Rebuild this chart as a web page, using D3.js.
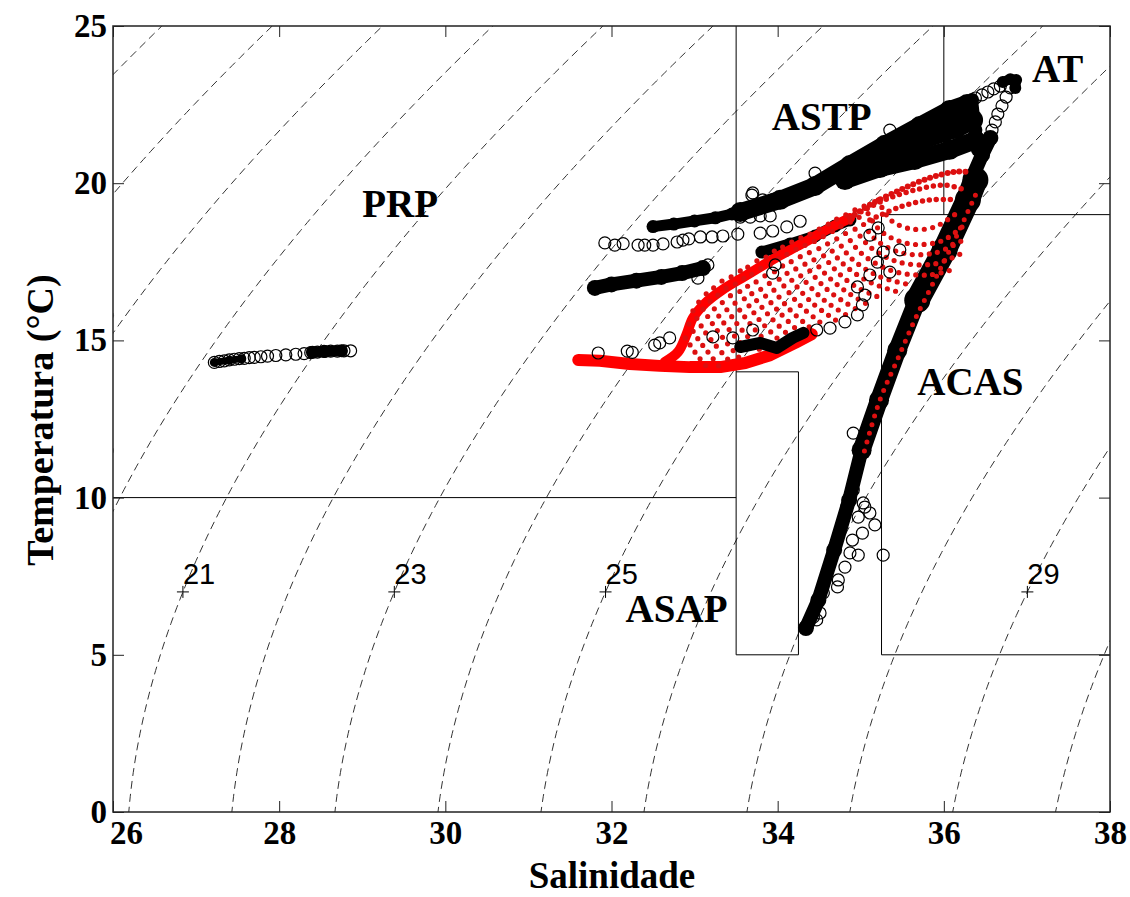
<!DOCTYPE html>
<html>
<head>
<meta charset="utf-8">
<script src="https://cdn.jsdelivr.net/npm/d3@7"></script>
<style>
  body { margin: 0; background: #fff; }
  .chart text { font-family: "Liberation Serif", "Times New Roman", serif; font-weight: bold; fill: #000; }
  .chart text.siglab { font-family: "Liberation Sans", Arial, sans-serif; font-weight: normal; }
</style>
</head>
<body>
<div class="chart"></div>
<script>
// ---- axes ----
const xTicks = [26, 28, 30, 32, 34, 36, 38];
const yTicks = [0, 5, 10, 15, 20, 25];
const sigmaLevels = [17, 18, 19, 20, 21, 22, 23, 24, 25, 26, 27, 28, 29, 30];
const sigmaLabels = [21, 23, 25, 29];
const sigmaLabelT = 7;

// ---- water mass limits (S1,T1,S2,T2) ----
const boxLines = [
  [26, 10, 33.5, 10],
  [33.5, 5, 33.5, 25],
  [33.5, 14, 34.25, 14], [34.25, 14, 34.25, 5], [33.5, 5, 34.25, 5],
  [36, 19, 36, 25],
  [35.25, 19, 38, 19], [35.25, 5, 35.25, 19], [35.25, 5, 38, 5]
];
const massNames = ["PRP", "ASTP", "AT", "ACAS", "ASAP"];
const massS = [29.00, 33.93, 37.06, 35.68, 32.17];
const massT = [18.93, 21.69, 23.22, 13.26, 6.04];

// ---- observed data: dense black tracks [S, T] ----
const prpLeft  = [[27.22, 14.30], [27.40, 14.37], [27.55, 14.42]];
const prpRight = [[28.40, 14.62], [28.55, 14.65], [28.75, 14.67]];
const trackC = [[31.80, 16.67], [32.00, 16.78], [32.30, 16.90], [32.60, 17.02], [32.85, 17.14], [33.10, 17.30]];
const trackB = [[32.50, 18.62], [32.75, 18.70], [33.00, 18.80], [33.25, 18.90], [33.45, 19.02]];
const trackD = [[33.81, 17.81], [34.15, 18.07], [34.45, 18.32], [34.69, 18.64], [34.87, 18.83]];
const bandA = [[33.55, 19.08], [34.03, 19.47], [34.45, 19.91], [34.87, 20.58], [35.29, 21.22], [35.71, 21.82], [36.07, 22.33], [36.28, 22.52]];
const bandB = [[34.81, 20.10], [35.23, 20.48], [35.65, 20.74], [36.07, 21.06], [36.38, 21.37]];
const bandC = [[35.23, 20.90], [35.71, 21.37], [36.14, 21.76], [36.34, 22.01]];
const bandD = [[36.34, 22.65], [36.38, 21.69], [36.41, 21.06]];
const bandE = [[36.56, 21.44], [36.46, 20.90], [36.34, 20.17], [36.26, 19.53]];
const bandF = [[36.71, 23.22], [36.80, 23.31], [36.87, 23.28], [36.86, 23.03]];
const mainTop = [[36.38, 20.10], [36.29, 19.47], [36.01, 17.88], [35.68, 16.28]];
const mainMid = [[35.68, 16.28], [35.44, 14.69], [35.22, 13.10], [35.01, 11.51]];
const mainLow = [[35.01, 11.51], [34.86, 9.92], [34.68, 8.33], [34.49, 6.74], [34.34, 5.85]];
const asapStreak = [[33.55, 14.79], [33.79, 14.92], [33.99, 14.76], [34.18, 15.08], [34.31, 15.24]];

// ---- observed data: single open circles [S, T] ----
const prpS = [27.22, 27.28, 27.34, 27.40, 27.46, 27.52, 27.58, 27.64, 27.70, 27.78, 27.86, 27.96, 28.08, 28.20, 28.30, 28.38, 28.46, 28.54, 28.62, 28.70, 28.78, 28.86];
const prpT = [14.30, 14.33, 14.35, 14.38, 14.40, 14.42, 14.43, 14.45, 14.46, 14.48, 14.50, 14.52, 14.54, 14.56, 14.58, 14.61, 14.63, 14.65, 14.66, 14.66, 14.67, 14.67];
const openCircles = [
  [31.92, 18.10], [32.04, 18.03], [32.14, 18.08], [32.32, 18.03], [32.40, 18.03], [32.50, 18.03], [32.62, 18.07],
  [32.79, 18.13], [32.86, 18.19], [32.93, 18.23], [33.07, 18.29], [33.21, 18.29], [33.34, 18.32], [33.52, 18.38],
  [33.79, 18.41], [33.94, 18.48], [34.11, 18.61], [34.27, 18.79],
  [33.55, 18.92], [33.67, 18.92], [33.79, 18.96], [33.91, 18.96], [33.70, 19.69], [33.82, 19.47], [33.94, 19.47],
  [33.04, 16.98], [33.10, 17.30], [33.16, 17.40],
  [31.84, 14.60], [32.19, 14.66], [32.25, 14.62], [32.52, 14.85], [32.58, 14.92], [32.70, 15.08], [33.22, 15.11],
  [33.46, 15.08], [33.70, 15.33],
  [34.47, 15.33], [34.63, 15.39], [34.81, 15.59], [34.96, 15.81], [35.02, 16.13], [35.05, 16.44], [34.96, 16.70],
  [35.11, 17.08], [35.20, 17.49], [35.27, 17.81], [35.11, 18.35], [35.21, 18.58], [35.47, 17.88], [35.35, 17.17],
  [34.91, 12.05], [35.05, 9.70], [34.97, 9.38], [35.11, 9.51], [35.17, 9.13], [35.02, 8.87], [34.90, 8.65],
  [34.97, 8.17], [34.87, 8.24], [35.27, 8.17], [34.81, 7.79], [34.73, 7.38], [34.72, 7.16], [34.55, 6.97],
  [34.51, 6.33], [34.43, 6.20], [34.35, 5.88], [34.47, 6.11], [34.91, 10.24], [34.83, 9.70], [35.03, 9.83],
  [34.45, 20.32], [35.35, 21.69], [33.69, 19.62], [33.97, 17.40], [33.94, 17.14],
  [36.29, 22.58], [36.38, 22.71], [36.46, 22.81], [36.53, 22.90], [36.60, 23.00], [36.68, 23.09],
  [36.80, 23.03], [36.75, 22.74], [36.70, 22.46], [36.65, 22.20], [36.62, 21.95], [36.58, 21.69]
];
const edgePoints = [[25.97, 15.8], [25.97, 11.5]];

// ---- model output (red) [S, T] ----
const redTail = [[31.60, 14.38], [31.86, 14.35], [32.22, 14.25], [32.58, 14.19], [32.94, 14.15], [33.31, 14.15], [33.61, 14.28], [33.91, 14.53], [34.21, 14.92], [34.41, 15.20]];
const redUpper = [[32.64, 14.31], [32.80, 14.63], [32.90, 15.17], [32.98, 15.71], [33.13, 16.19], [33.33, 16.60], [33.61, 17.05], [33.97, 17.62], [34.33, 18.13], [34.63, 18.58], [34.87, 18.89]];
const redTop = [[34.87, 18.89], [35.11, 19.31], [35.47, 19.78], [35.83, 20.17], [36.13, 20.36], [36.32, 20.36]];
const redEdge = [[36.38, 19.62], [36.13, 18.19], [35.89, 16.92], [35.65, 15.65], [35.44, 14.38], [35.23, 13.10], [35.03, 11.35]];
const redRows = [
  [[34.93, 18.99], [35.29, 19.47], [35.65, 19.78], [36.01, 19.94], [36.26, 19.78]],
  [[35.11, 18.83], [35.47, 19.24], [35.83, 19.47], [36.14, 19.47]]
];
const redArcs = [
  [[35.21, 19.47], [35.36, 18.83], [35.62, 18.54], [35.89, 18.61], [36.14, 19.02]],
  [[35.04, 19.27], [35.24, 18.48], [35.59, 18.07], [35.97, 18.16], [36.22, 18.61]],
  [[34.93, 19.15], [35.17, 18.23], [35.50, 17.78], [35.89, 17.78], [36.23, 18.19]],
  [[34.82, 18.99], [35.10, 18.00], [35.46, 17.49], [35.88, 17.43], [36.20, 17.75]],
  [[34.71, 18.86], [34.99, 17.81], [35.38, 17.21], [35.81, 17.08], [36.09, 17.24]],
  [[34.61, 18.70], [34.86, 17.68], [35.21, 17.05], [35.61, 16.76]],
  [[34.50, 18.54], [34.73, 17.59], [35.08, 16.89], [35.49, 16.51]],
  [[34.39, 18.38], [34.61, 17.49], [34.91, 16.76], [35.27, 16.32]],
  [[34.28, 18.26], [34.50, 17.33], [34.80, 16.60], [35.12, 16.09]],
  [[34.17, 18.13], [34.37, 17.27], [34.63, 16.54], [34.98, 15.94]],
  [[34.06, 17.97], [34.27, 17.08], [34.56, 16.28], [34.87, 15.74]],
  [[33.96, 17.84], [34.16, 16.95], [34.43, 16.16], [34.73, 15.59]],
  [[33.86, 17.65], [34.04, 16.86], [34.28, 16.09], [34.57, 15.46]],
  [[33.75, 17.53], [33.92, 16.73], [34.15, 15.97], [34.41, 15.36]],
  [[33.64, 17.33], [33.81, 16.57], [34.03, 15.87], [34.27, 15.24]],
  [[33.55, 17.21], [33.69, 16.48], [33.90, 15.78], [34.14, 15.14]],
  [[33.44, 17.02], [33.60, 16.32], [33.79, 15.62], [34.03, 14.98]],
  [[33.33, 16.89], [33.50, 16.13], [33.69, 15.46], [33.91, 14.82]],
  [[33.23, 16.67], [33.39, 15.97], [33.58, 15.30], [33.79, 14.69]],
  [[33.14, 16.48], [33.29, 15.78], [33.48, 15.14], [33.67, 14.54]],
  [[33.05, 16.22], [33.21, 15.55], [33.38, 14.95], [33.55, 14.41]],
  [[32.98, 15.94], [33.11, 15.33], [33.27, 14.79], [33.43, 14.31]],
  [[32.93, 15.52], [33.05, 15.01], [33.17, 14.60], [33.29, 14.19]],
  [[32.89, 15.08], [33.02, 14.57], [33.17, 14.09]]
];

// ---- styles (kept apart from the data) ----
const black = "#000", red = "#ff0000", redDot = "#dc1010";
const denseTracks = [
  [prpLeft, 7], [prpRight, 11], [trackC, 14], [trackB, 11], [trackD, 11],
  [bandA, 18], [bandB, 18], [bandC, 20], [bandD, 12], [bandE, 14], [bandF, 10],
  [mainTop, 24], [mainMid, 18], [mainLow, 14]
];

// ---- layout ----
const W = 1130, H = 897;
const x = d3.scaleLinear().domain([26, 38]).range([113, 1110]);
const y = d3.scaleLinear().domain([0, 25]).range([812, 26]);

const svg = d3.select(".chart").append("svg")
  .attr("width", W).attr("height", H);

svg.append("clipPath").attr("id", "plot")
  .append("rect").attr("x", x(26)).attr("y", y(25))
  .attr("width", x(38) - x(26)).attr("height", y(0) - y(25));

const plot = svg.append("g").attr("clip-path", "url(#plot)");

// sigma-t (UNESCO 1981, p = 0)
function sigmaT(S, T) {
  const rw = 999.842594 + 6.793952e-2 * T - 9.095290e-3 * T * T + 1.001685e-4 * T ** 3
    - 1.120083e-6 * T ** 4 + 6.536332e-9 * T ** 5;
  const A = 8.24493e-1 - 4.0899e-3 * T + 7.6438e-5 * T * T - 8.2467e-7 * T ** 3 + 5.3875e-9 * T ** 4;
  const B = -5.72466e-3 + 1.0227e-4 * T - 1.6546e-6 * T * T;
  return rw + A * S + B * Math.pow(S, 1.5) + 4.8314e-4 * S * S - 1000;
}
function salAt(sig, T) {
  let lo = 0, hi = 50;
  for (let k = 0; k < 60; k++) {
    const mid = (lo + hi) / 2;
    if (sigmaT(mid, T) < sig) lo = mid; else hi = mid;
  }
  return (lo + hi) / 2;
}

const line = d3.line().x(d => x(d[0])).y(d => y(d[1]));
const smooth = d3.line().x(d => x(d[0])).y(d => y(d[1])).curve(d3.curveCatmullRom);
const Tgrid = d3.range(-0.5, 25.6, 0.25);

// isopycnals
plot.selectAll("path.iso").data(sigmaLevels).enter().append("path")
  .attr("class", "iso")
  .attr("fill", "none").attr("stroke", "#333").attr("stroke-width", 1)
  .attr("stroke-dasharray", "8,5")
  .attr("d", s => line(Tgrid.map(t => [salAt(s, t), t])));

// water mass limits
plot.selectAll("line.box").data(boxLines).enter().append("line")
  .attr("x1", d => x(d[0])).attr("y1", d => y(d[1]))
  .attr("x2", d => x(d[2])).attr("y2", d => y(d[3]))
  .attr("stroke", black).attr("stroke-width", 1);

// isopycnal labels
const lab = svg.selectAll("g.siglab").data(sigmaLabels).enter().append("g")
  .attr("transform", s => `translate(${x(salAt(s, sigmaLabelT))},${y(sigmaLabelT)})`);
lab.append("path").attr("d", "M-6,0H6M0,-6V6").attr("stroke", black).attr("stroke-width", 1);
lab.append("text").attr("class", "siglab").attr("x", 0).attr("y", -8)
  .style("font-size", "29px").text(s => s);

// dense observed tracks
denseTracks.forEach(([pts, w]) => {
  plot.append("path").attr("d", line(pts)).attr("fill", "none")
    .attr("stroke", black).attr("stroke-width", w)
    .attr("stroke-linejoin", "round").attr("stroke-linecap", "round");
  plot.selectAll(null).data(pts).enter().append("circle")
    .attr("cx", d => x(d[0])).attr("cy", d => y(d[1])).attr("r", w / 2 + 1)
    .attr("fill", black);
});

// PRP circles
plot.selectAll("circle.prp").data(prpS).enter().append("circle")
  .attr("cx", d => x(d)).attr("cy", (d, i) => y(prpT[i])).attr("r", 6)
  .attr("fill", "none").attr("stroke", black).attr("stroke-width", 1.2);

// model output
plot.append("path").attr("d", line(redTail)).attr("fill", "none")
  .attr("stroke", red).attr("stroke-width", 12).attr("stroke-linejoin", "round").attr("stroke-linecap", "round");
plot.append("path").attr("d", smooth(redUpper)).attr("fill", "none")
  .attr("stroke", red).attr("stroke-width", 10).attr("stroke-linejoin", "round").attr("stroke-linecap", "round");
plot.append("path").attr("d", smooth(redTop)).attr("fill", "none")
  .attr("stroke", redDot).attr("stroke-width", 6).attr("stroke-dasharray", "0,6").attr("stroke-linecap", "round");
plot.selectAll("path.row").data(redRows).enter().append("path")
  .attr("class", "row").attr("d", smooth).attr("fill", "none")
  .attr("stroke", redDot).attr("stroke-width", 5.5).attr("stroke-dasharray", "0,7").attr("stroke-linecap", "round");
plot.append("path").attr("d", smooth(redEdge)).attr("fill", "none")
  .attr("stroke", redDot).attr("stroke-width", 5).attr("stroke-dasharray", "0,9").attr("stroke-linecap", "round");
plot.selectAll("path.arc").data(redArcs).enter().append("path")
  .attr("class", "arc").attr("d", smooth).attr("fill", "none")
  .attr("stroke", redDot).attr("stroke-width", 5.2).attr("stroke-dasharray", "0,8.5").attr("stroke-linecap", "round");

// ASAP streak on top of red
plot.append("path").attr("d", line(asapStreak)).attr("fill", "none")
  .attr("stroke", black).attr("stroke-width", 12).attr("stroke-linejoin", "round").attr("stroke-linecap", "round");

// single open circles
plot.selectAll("circle.obs").data(openCircles).enter().append("circle")
  .attr("cx", d => x(d[0])).attr("cy", d => y(d[1])).attr("r", 6)
  .attr("fill", "none").attr("stroke", black).attr("stroke-width", 1.2);
plot.selectAll("circle.edge").data(edgePoints).enter().append("circle")
  .attr("cx", d => x(d[0])).attr("cy", d => y(d[1])).attr("r", 3.5)
  .attr("fill", "#888");

// frame and axes
svg.append("rect").attr("x", x(26)).attr("y", y(25))
  .attr("width", x(38) - x(26)).attr("height", y(0) - y(25))
  .attr("fill", "none").attr("stroke", "#222").attr("stroke-width", 1.5);

const gx = svg.append("g").attr("transform", `translate(0,${y(0)})`)
  .call(d3.axisBottom(x).tickValues(xTicks).tickSize(-11).tickPadding(9));
const gy = svg.append("g").attr("transform", `translate(${x(26)},0)`)
  .call(d3.axisLeft(y).tickValues(yTicks).tickSize(-11).tickPadding(6));
svg.append("g").attr("transform", `translate(0,${y(25)})`)
  .call(d3.axisTop(x).tickValues(xTicks).tickSize(-11).tickFormat(""));
svg.append("g").attr("transform", `translate(${x(38)},0)`)
  .call(d3.axisRight(y).tickValues(yTicks).tickSize(-11).tickFormat(""));
svg.selectAll(".domain").remove();
svg.selectAll(".tick line").attr("stroke", "#222");
gx.selectAll("text").style("font-size", "33px").attr("fill", black)
  .attr("dx", d => d === 26 ? 13 : 0);
gy.selectAll("text").style("font-size", "33px").attr("fill", black);

// axis titles
svg.append("text").attr("x", 612).attr("y", 888).attr("text-anchor", "middle")
  .style("font-size", "37px").text("Salinidade");
svg.append("text").attr("transform", "translate(53,420) rotate(-90)")
  .attr("text-anchor", "middle").style("font-size", "38px").text("Temperatura (°C)");

// water mass names
svg.selectAll("text.mass").data(massNames).enter().append("text")
  .attr("x", (d, i) => x(massS[i])).attr("y", (d, i) => y(massT[i]))
  .attr("text-anchor", "start").style("font-size", "39px").text(d => d);
</script>
</body>
</html>
